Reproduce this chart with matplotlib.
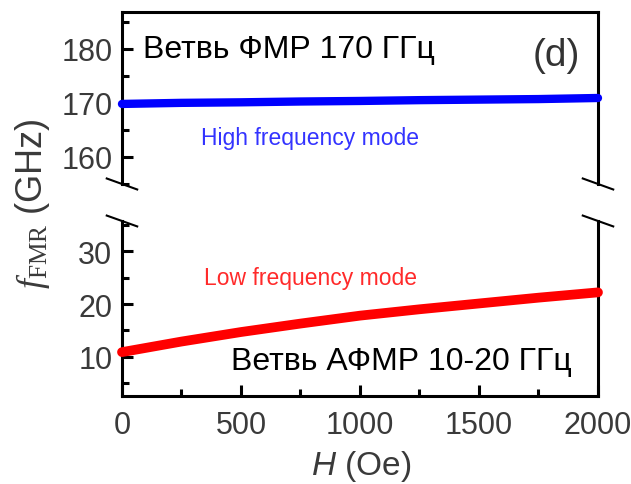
import numpy as np
import matplotlib
matplotlib.use('Agg')
import matplotlib.pyplot as plt
from matplotlib.ticker import MultipleLocator

plt.rcParams['font.family'] = ['Liberation Sans', 'DejaVu Sans']
plt.rcParams['mathtext.fontset'] = 'custom'
plt.rcParams['mathtext.it'] = 'Liberation Serif:italic'
plt.rcParams['mathtext.rm'] = 'Liberation Serif'
plt.rcParams['mathtext.sf'] = 'Liberation Sans:italic'

# field values (Oe) and the two resonance branches (GHz)
H = [0, 250, 500, 750, 1000, 1250, 1500, 1750, 2000]
f_high = [169.8, 170.0, 170.1, 170.25, 170.35, 170.5, 170.6, 170.7, 170.9]
f_low = [10.9, 12.9, 14.7, 16.3, 17.8, 19.0, 20.1, 21.2, 22.2]

x_ticks = [0, 500, 1000, 1500, 2000]
top_ticks = [160, 170, 180]
bot_ticks = [10, 20, 30]

fig = plt.figure(figsize=(6.31, 4.85), dpi=100)
ax_top = fig.add_axes([0.1933, 0.6186, 0.7544, 0.3546])
ax_bot = fig.add_axes([0.1933, 0.1814, 0.7544, 0.3609])

tick_col = '#3a3a3a'
for ax in (ax_top, ax_bot):
    for s in ax.spines.values():
        s.set_linewidth(2.2)
    ax.set_xlim(0, 2000)
    ax.tick_params(axis='y', which='both', direction='in', width=2.2,
                   labelsize=22, labelcolor=tick_col, pad=7, right=False)
    ax.tick_params(axis='y', which='major', length=8)
    ax.tick_params(axis='y', which='minor', length=5)
    ax.yaxis.set_minor_locator(MultipleLocator(5))

ax_top.spines['bottom'].set_visible(False)
ax_bot.spines['top'].set_visible(False)
ax_top.tick_params(axis='x', which='both', bottom=False, top=False, labelbottom=False)
ax_bot.tick_params(axis='x', which='both', direction='in', width=2.2,
                   labelsize=22, labelcolor=tick_col, pad=10, top=False)
ax_bot.tick_params(axis='x', which='major', length=8)
ax_bot.tick_params(axis='x', which='minor', length=5)
ax_bot.set_xticks(x_ticks)
ax_bot.xaxis.set_minor_locator(MultipleLocator(250))

ax_top.set_ylim(155, 186.8)
ax_top.set_yticks(top_ticks)
ax_bot.set_ylim(2.6, 35.7)
ax_bot.set_yticks(bot_ticks)

ax_top.plot(H, f_high, color='#0000ff', lw=6, solid_capstyle='round', clip_on=False, zorder=3)
ax_bot.plot(H, f_low, color='#ff0000', lw=7, solid_capstyle='round', clip_on=False, zorder=3)

# break marks
d = 0.032
for xc in (0, 1):
    ax_top.plot([xc - d, xc + d], [0.032, -0.032], transform=ax_top.transAxes,
                color='k', lw=1.5, clip_on=False)
    ax_bot.plot([xc - d, xc + d], [1.031, 0.969], transform=ax_bot.transAxes,
                color='k', lw=1.5, clip_on=False)

ax_top.text(0.045, 0.785, 'Ветвь ФМР 170 ГГц', transform=ax_top.transAxes,
            fontsize=23, va='center', ha='left', color='k')
ax_top.text(0.962, 0.75, '(d)', transform=ax_top.transAxes,
            fontsize=28, va='center', ha='right', color='#333333')
ax_top.text(0.395, 0.27, 'High frequency mode', transform=ax_top.transAxes,
            fontsize=16.5, va='center', ha='center', color='#3333ff')
ax_bot.text(0.397, 0.675, 'Low frequency mode', transform=ax_bot.transAxes,
            fontsize=16.5, va='center', ha='center', color='#ff2a2a')
ax_bot.text(0.945, 0.2, 'Ветвь АФМР 10-20 ГГц', transform=ax_bot.transAxes,
            fontsize=23, va='center', ha='right', color='k')

fig.text(0.051, 0.579, r'$f_{\rm FMR}$ (GHz)', rotation=90, fontsize=26,
         va='center', ha='center', color=tick_col)
fig.text(0.572, 0.039, r'$\mathsf{H}$ (Oe)', fontsize=24,
         va='center', ha='center', color=tick_col)

fig.savefig('out.png', dpi=100)
